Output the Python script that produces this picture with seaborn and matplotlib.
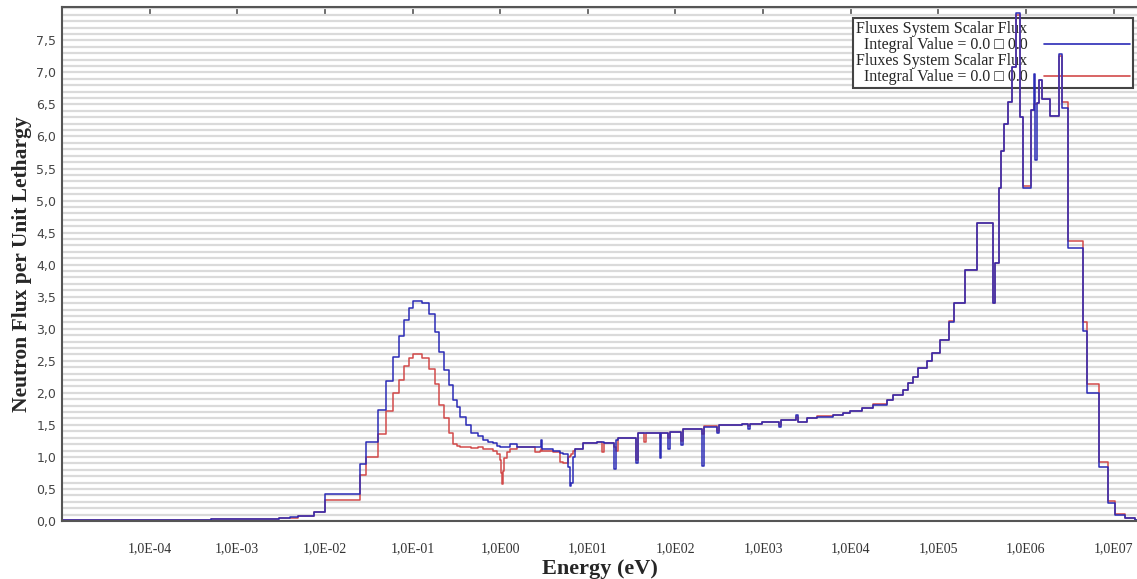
import matplotlib
matplotlib.use("Agg")
import matplotlib.pyplot as plt
from matplotlib.lines import Line2D
from matplotlib.ticker import MultipleLocator, NullLocator
import seaborn as sns
import pandas as pd

# group boundaries (eV) and flux per unit lethargy
edges_ev = [1.0e-5, 5.0e-4, 3.0e-3, 4.0e-3, 4.9e-3, 7.45e-3, 1.0e-2, 2.54e-2,
            2.92e-2, 4.04e-2, 5.04e-2, 5.98e-2, 7.01e-2, 7.94e-2, 9.06e-2, 0.101,
            0.127, 0.154, 0.179, 0.201, 0.229, 0.261, 0.290, 0.322,
            0.346, 0.412, 0.470, 0.560, 0.638, 0.721, 0.824, 0.914,
            0.989, 1.016, 1.043, 1.071, 1.114, 1.19, 1.288, 1.547,
            2.48, 2.83, 2.91, 3.02, 3.98, 4.79, 5.18, 5.99,
            6.23, 6.48, 6.75, 7.11, 8.77, 12.7, 14.45, 15.2,
            19.8, 20.9, 22.0, 35.3, 37.7, 43.6, 45.9, 66.4,
            69.1, 83.0, 86.3, 115, 122, 203, 211, 297,
            313, 573, 679, 706, 968, 1535, 1596, 2366,
            2529, 3162, 4111, 6266, 8147, 9795, 1.343e4, 1.79e4,
            2.59e4, 3.03e4, 3.94e4, 4.50e4, 5.13e4, 5.85e4, 7.41e4, 8.45e4,
            1.04e5, 1.32e5, 1.51e5, 2.01e5, 2.76e5, 4.20e5, 4.49e5, 4.92e5,
            5.19e5, 5.61e5, 6.24e5, 6.87e5, 7.69e5, 8.55e5, 9.25e5, 1.14e6,
            1.23e6, 1.28e6, 1.34e6, 1.41e6, 1.53e6, 1.88e6, 2.40e6, 2.56e6,
            3.04e6, 4.51e6, 5.01e6, 6.81e6, 8.70e6, 1.04e7, 1.35e7, 1.75e7,
            2.0e7]

flux_blue = [0.015, 0.035, 0.05, 0.055, 0.08, 0.135, 0.42, 0.89,
             1.24, 1.73, 2.19, 2.56, 2.89, 3.14, 3.32, 3.43,
             3.40, 3.23, 2.95, 2.64, 2.36, 2.12, 1.89, 1.78,
             1.63, 1.50, 1.37, 1.32, 1.26, 1.24, 1.21, 1.17,
             1.16, 1.15, 1.15, 1.15, 1.15, 1.15, 1.20, 1.16,
             1.16, 1.16, 1.26, 1.12, 1.10, 1.06, 1.04, 0.85,
             0.55, 0.60, 1.00, 1.12, 1.21, 1.23, 1.23, 1.22,
             0.81, 1.26, 1.29, 0.90, 1.37, 1.37, 1.37, 0.98,
             1.38, 1.12, 1.39, 1.19, 1.43, 0.86, 1.47, 1.37,
             1.50, 1.52, 1.43, 1.52, 1.55, 1.47, 1.58, 1.65,
             1.55, 1.60, 1.63, 1.66, 1.69, 1.72, 1.76, 1.81,
             1.89, 1.97, 2.05, 2.16, 2.25, 2.38, 2.49, 2.62,
             2.83, 3.10, 3.40, 3.92, 4.65, 3.40, 4.02, 5.20,
             5.77, 6.20, 6.53, 7.08, 7.93, 6.30, 5.20, 6.42,
             6.97, 5.64, 6.52, 6.88, 6.58, 6.32, 7.28, 6.45,
             4.26, 2.97, 2.00, 0.84, 0.28, 0.10, 0.04, 0.015]

flux_red = [0.015, 0.035, 0.05, 0.04, 0.08, 0.135, 0.33, 0.72,
            1.00, 1.36, 1.71, 1.99, 2.20, 2.42, 2.54, 2.60,
            2.54, 2.37, 2.13, 1.81, 1.61, 1.37, 1.20, 1.17,
            1.15, 1.16, 1.14, 1.15, 1.13, 1.12, 1.10, 1.05,
            0.95, 0.75, 0.58, 0.78, 0.98, 1.07, 1.12, 1.16,
            1.08, 1.10, 1.12, 1.10, 1.08, 0.92, 0.90, 1.00,
            1.02, 1.05, 1.10, 1.12, 1.22, 1.23, 1.08, 1.22,
            1.15, 1.10, 1.29, 0.95, 1.37, 1.24, 1.37, 1.30,
            1.38, 1.30, 1.39, 1.25, 1.43, 1.35, 1.48, 1.40,
            1.50, 1.52, 1.48, 1.52, 1.55, 1.50, 1.58, 1.62,
            1.55, 1.60, 1.64, 1.66, 1.69, 1.72, 1.77, 1.82,
            1.89, 1.97, 2.05, 2.16, 2.25, 2.38, 2.49, 2.62,
            2.83, 3.12, 3.40, 3.92, 4.65, 3.40, 4.02, 5.20,
            5.77, 6.20, 6.53, 7.08, 7.90, 6.30, 5.22, 6.42,
            6.50, 6.50, 6.52, 6.88, 6.58, 6.32, 7.25, 6.53,
            4.37, 3.11, 2.14, 0.92, 0.31, 0.11, 0.04, 0.015]

x_ticks = [1e-4, 1e-3, 1e-2, 1e-1, 1e0, 1e1, 1e2, 1e3, 1e4, 1e5, 1e6, 1e7]
x_tick_labels = ["1,0E-04", "1,0E-03", "1,0E-02", "1,0E-01", "1,0E00", "1,0E01",
                 "1,0E02", "1,0E03", "1,0E04", "1,0E05", "1,0E06", "1,0E07"]
y_ticks = [0.0, 0.5, 1.0, 1.5, 2.0, 2.5, 3.0, 3.5, 4.0, 4.5, 5.0, 5.5, 6.0, 6.5, 7.0, 7.5]
y_tick_labels = ["0,0", "0,5", "1,0", "1,5", "2,0", "2,5", "3,0", "3,5",
                 "4,0", "4,5", "5,0", "5,5", "6,0", "6,5", "7,0", "7,5"]

legend_name = "Fluxes System Scalar Flux"
legend_value = " Integral Value = 0.0 \u25a1 0.0"

BLUE = "#2b2bb6"
RED = "#d24a4a"


def step_frame(values):
    # last value repeated so the final group gets drawn up to its upper edge
    return pd.DataFrame({"energy": edges_ev, "flux": values + values[-1:]})


sns.set_style("white")
plt.rcParams["font.family"] = ["DejaVu Sans"]

fig = plt.figure(figsize=(11.37, 5.79), dpi=100)
ax = fig.add_axes([62 / 1137, 58 / 579, 1075 / 1137, 514 / 579])

sns.lineplot(data=step_frame(flux_red), x="energy", y="flux", color=RED,
             drawstyle="steps-post", linewidth=1.1, estimator=None, ax=ax, zorder=2)
sns.lineplot(data=step_frame(flux_blue), x="energy", y="flux", color=BLUE,
             drawstyle="steps-post", linewidth=1.1, estimator=None, ax=ax, zorder=2.1)

ax.set_xscale("log")
ax.set_xlim(1e-5, 1.85e7)
ax.set_ylim(0, 8.02)

ax.set_xticks(x_ticks, x_tick_labels)
ax.xaxis.set_minor_locator(NullLocator())
ax.set_yticks(y_ticks, y_tick_labels)
ax.yaxis.set_minor_locator(MultipleLocator(0.1))

ax.tick_params(axis="x", which="major", direction="in", length=5, width=1.2,
               top=True, pad=15, labelsize=10, labelcolor="#333333", color="#555555")
ax.tick_params(axis="y", which="major", direction="in", length=4, width=1.2,
               pad=4, labelsize=9, labelcolor="#444444", color="#555555")
ax.tick_params(axis="y", which="minor", length=0)
for lab in ax.get_xticklabels():
    lab.set_fontfamily("Liberation Serif")

ax.set_axisbelow(True)
ax.grid(True, axis="y", which="both", color="#dadada", linewidth=1.6)
ax.grid(False, axis="x")

for side in ["top", "left", "bottom"]:
    ax.spines[side].set_color("#555555")
    ax.spines[side].set_linewidth(1.5)
ax.spines["right"].set_visible(False)

ax.set_xlabel("Energy (eV)", fontfamily="Liberation Serif", fontweight="bold",
              fontsize=16, labelpad=3)
ax.set_ylabel("Neutron Flux per Unit Lethargy", fontfamily="Liberation Serif",
              fontweight="bold", fontsize=15.5, labelpad=3)

handles = [Line2D([], [], color="none"), Line2D([], [], color=BLUE, lw=1.2),
           Line2D([], [], color="none"), Line2D([], [], color=RED, lw=1.2)]
labels = [legend_name, legend_value, legend_name, legend_value]
leg = ax.legend(handles, labels, loc="upper right",
                bbox_to_anchor=((1133 - 62) / 1075, (521 - 18) / 514),
                borderaxespad=0, markerfirst=False, handlelength=5.4,
                handletextpad=1.0, labelspacing=0.0, borderpad=0.2,
                frameon=True, fancybox=False, framealpha=1, edgecolor="#444444",
                prop={"family": "Liberation Serif", "size": 11.5})
leg.get_frame().set_linewidth(1.5)
leg.set_zorder(1.5)

plt.savefig("out.png", dpi=100)
plt.close()
